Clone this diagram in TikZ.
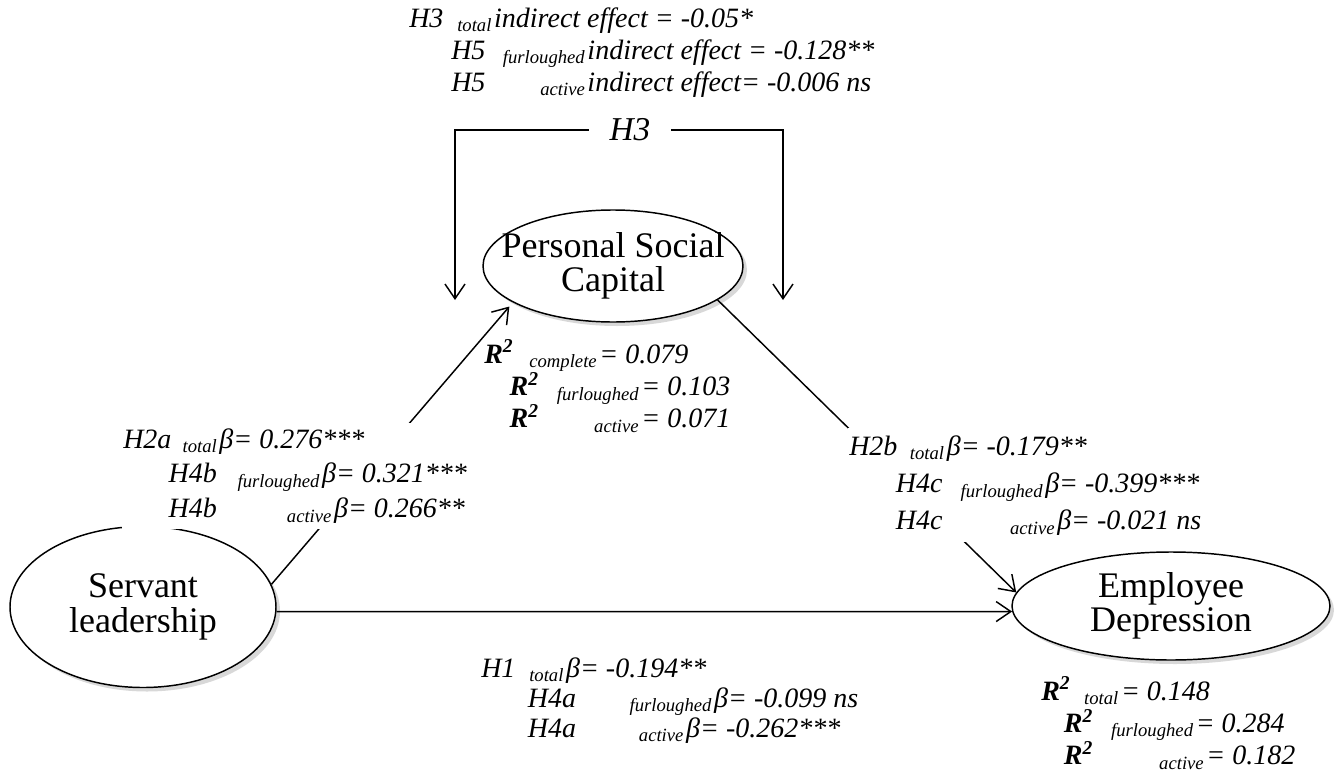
\documentclass[tikz,border=0pt]{standalone}
\usepackage{fontspec}
\setmainfont{Liberation Serif}[
  BoldFont={Liberation Serif Bold},
  ItalicFont={Liberation Serif Italic},
  BoldItalicFont={Liberation Serif Bold Italic}]
\usetikzlibrary{arrows.meta,shapes.geometric,shadows}

\newcommand{\subsz}{\fontsize{14}{14}\selectfont}
\newcommand{\sbx}[2]{\makebox[#1][r]{\raisebox{-3.5pt}[0pt][0pt]{\subsz #2}\hspace{2pt}}}
\newcommand{\Rsq}{\textbf{R\textsuperscript{2}}}

\tikzset{
  latent/.style={ellipse, draw, line width=1.1pt, fill=white, inner sep=0pt,
    drop shadow={shadow xshift=3pt, shadow yshift=-3pt, fill=black!30}},
  latentlbl/.style={font=\fontsize{27}{26}\selectfont, align=center, inner sep=0pt},
  link/.style={line width=1.1pt, -{Straight Barb[length=11pt,width=15pt]}},
  coef/.style={inner sep=0.75pt, anchor=base west, font=\fontsize{21}{#1}\selectfont\itshape},
}

\begin{document}
\begin{tikzpicture}[x=0.75pt,y=0.75pt,yscale=-1,xscale=1]
\path[use as bounding box] (0,0) rectangle (1335,778);

%Shape: Ellipse [id:dp2716094853]
\node [latent, minimum width=199.5pt, minimum height=120.75pt,
  label={[latentlbl]center:Servant\\leadership}] (sl) at (143,607) {};
%Shape: Ellipse [id:dp8830417265]
\node [latent, minimum width=195pt, minimum height=84pt,
  label={[latentlbl]center:Personal Social\\Capital}] (psc) at (613,266) {};
%Shape: Ellipse [id:dp5049312867]
\node [latent, minimum width=238.5pt, minimum height=81pt,
  label={[latentlbl]center:Employee\\Depression}] (ed) at (1171,606) {};

%Straight Lines [id:da6615092743]
\draw [link, shorten >=4pt] (sl.10) -- (psc.200) ;
%Straight Lines [id:da1938470526]
\draw [link] (psc.-18) -- (ed.175) ;
%Straight Lines [id:da4427810359]
\draw [link] (sl.-2) -- (ed.182) ;

% Text Node
\draw (630,130) node [font=\fontsize{25}{25}\selectfont\itshape, inner xsep=15.5pt, inner ysep=2pt] (h3) {H3};
\coordinate (h3l) at (455,300);
\coordinate (h3r) at (783,300);
%Elbow Arrows [id:da7725136048]
\draw [link] (h3.west) -| (h3l) ;
%Elbow Arrows [id:da3082219954]
\draw [link] (h3.east) -| (h3r) ;

% Text Node
\draw (408,27) node [coef=24] (ind) {\begin{tabular}[t]{@{}l@{}}
H3\sbx{38pt}{total}indirect effect = -0.05*\\
\hspace*{31.5pt}H5\sbx{76.5pt}{furloughed}indirect effect = -0.128**\\
\hspace*{31.5pt}H5\sbx{76.5pt}{active}indirect effect= -0.006 ns
\end{tabular}};

% Text Node
\draw (122,448) node [coef=26, fill=white] (h2a) {\begin{tabular}[t]{@{}l@{}}
H2a\sbx{36pt}{total}β= 0.276***\\
\hspace*{34pt}H4b\sbx{79pt}{furloughed}β= 0.321***\\
\hspace*{34pt}H4b\sbx{88pt}{active}β= 0.266**
\end{tabular}};

% Text Node
\draw (483,363) node [coef=23.5] (rpsc) {\begin{tabular}[t]{@{}l@{}}
\Rsq\sbx{64.5pt}{complete}= 0.079\\
\hspace*{19pt}\Rsq\sbx{77pt}{furloughed}= 0.103\\
\hspace*{19pt}\Rsq\sbx{77pt}{active}= 0.071
\end{tabular}};

% Text Node
\draw (848,455) node [coef=28, fill=white] (h2b) {\begin{tabular}[t]{@{}l@{}}
H2b\sbx{37pt}{total}β= -0.179**\\
\hspace*{35pt}H4c\sbx{77pt}{furloughed}β= -0.399***\\
\hspace*{35pt}H4c\sbx{86pt}{active}β= -0.021 ns
\end{tabular}};

% Text Node
\draw (480,677) node [coef=22.5] (h1) {\begin{tabular}[t]{@{}l@{}}
H1\sbx{38pt}{total}β= -0.194**\\
\hspace*{35pt}H4a\sbx{103.5pt}{furloughed}β= -0.099 ns\\
\hspace*{35pt}H4a\sbx{82.5pt}{active}β= -0.262***
\end{tabular}};

% Text Node
\draw (1040,700) node [coef=23] (red) {\begin{tabular}[t]{@{}l@{}}
\Rsq\sbx{38pt}{total}= 0.148\\
\hspace*{17pt}\Rsq\sbx{77pt}{furloughed}= 0.284\\
\hspace*{17pt}\Rsq\sbx{85pt}{active}= 0.182
\end{tabular}};

\end{tikzpicture}
\end{document}
